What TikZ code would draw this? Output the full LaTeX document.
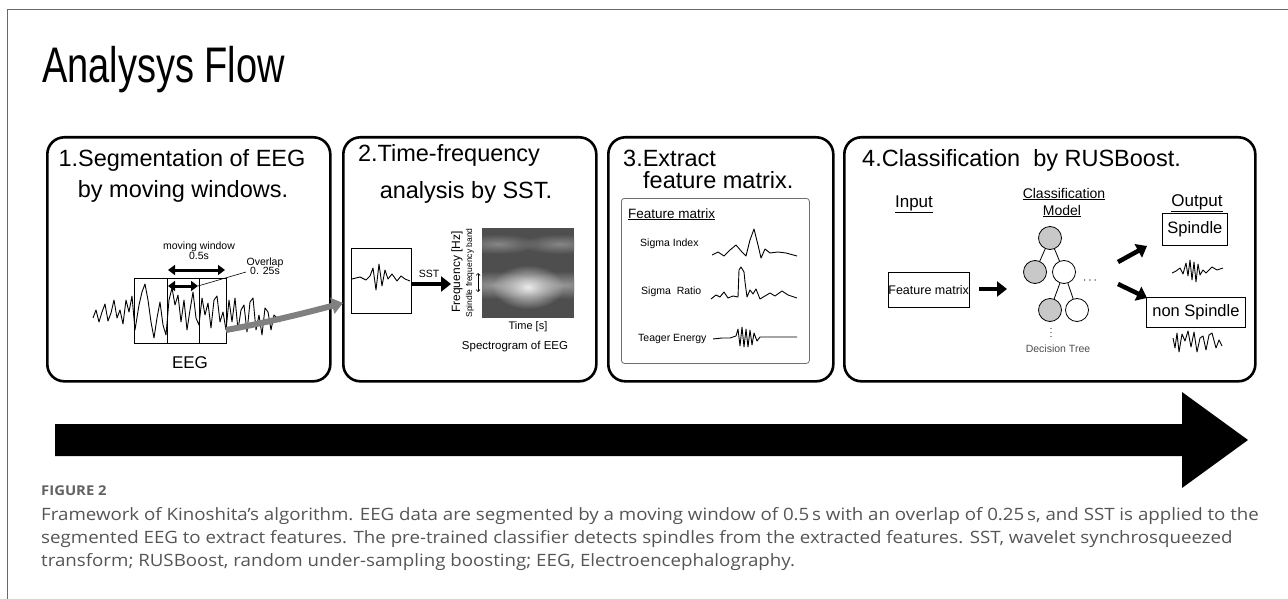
\documentclass[tikz,border=0pt]{standalone}
\usepackage{fontspec}
\setmainfont{Liberation Sans}
\newfontfamily\titlefont[FakeStretch=0.76]{Liberation Sans}
\newfontfamily\capfont[FakeStretch=1.1]{Open Sans}
\usetikzlibrary{arrows.meta,calc,fadings}

\newcommand{\fsz}[1]{\fontsize{#1}{#1}\selectfont}

\definecolor{framegray}{RGB}{105,105,105}
\definecolor{capgray}{RGB}{85,85,85}
\definecolor{flowgray}{RGB}{128,128,128}
\definecolor{specbg}{RGB}{78,78,78}
\definecolor{bandhi}{RGB}{135,135,135}
\definecolor{bandc}{RGB}{150,150,150}
\definecolor{blobc}{RGB}{235,235,235}
\definecolor{nodegray}{RGB}{200,200,200}
\definecolor{boxgray}{RGB}{110,110,110}

\tikzfading[name=softspot, inner color=transparent!0, outer color=transparent!100]

\tikzset{
  panel/.style={draw, line width=2.6pt, rounded corners=17pt, inner sep=0,
    minimum height=244pt, anchor=north west},
  ptitle/.style={font=\fsz{23.5}, anchor=base, inner sep=0},
  lbl/.style={inner sep=0, anchor=base},
  wave/.style={line width=0.9pt, line join=round},
  thinbox/.style={draw, line width=0.8pt, inner sep=0},
  dblarrow/.style={line width=3pt,
    {Triangle[length=7pt,width=10pt]}-{Triangle[length=7pt,width=10pt]}},
  fatarrow/.style={line width=4.5pt, -{Triangle[length=10pt,width=15pt]}},
  treenode/.style={circle, draw, line width=0.8pt, minimum size=23pt, inner sep=0},
  caption/.style={anchor=base west, inner sep=0, font=\capfont\fsz{17}, text=capgray},
  glow/.style={fill=#1, path fading=softspot},
}

\begin{document}
\begin{tikzpicture}[x=1pt, y=-1pt]
\useasboundingbox (0,0) rectangle (1288,599);

% outer frame
\draw[framegray, line width=1pt] (7,599) -- (7,10) -- (1288,10);

% heading
\node[anchor=base west, inner sep=0, font=\titlefont\fsz{50}] (heading) at (42,83) {Analysys Flow};

% the four stages
\node[panel, minimum width=283pt] (p1) at (46,136) {};
\node[panel, minimum width=253pt] (p2) at (342,136) {};
\node[panel, minimum width=225pt] (p3) at (607,136) {};
\node[panel, minimum width=411pt] (p4) at (843,136) {};

\node[ptitle] (t1a) at (182,167) {1.Segmentation of EEG};
\node[ptitle] (t1b) at (183,197) {by moving windows.};
\node[ptitle] (t2a) at (449,161) {2.Time-frequency};
\node[ptitle] (t2b) at (466,198) {analysis by SST.};
\node[ptitle, anchor=base west] (t3a) at (623,167) {3.Extract};
\node[ptitle, anchor=base west] (t3b) at (643,189) {feature matrix.};
\node[ptitle, anchor=base west] (t4) at (862,167) {4.Classification\ \ by RUSBoost.};

% ---- stage 1: segmentation ----
\node[lbl, font=\fsz{10.5}] (mwtxt) at (199,249) {moving window};
\node[lbl, font=\fsz{10.5}] (mwval) at (199,259) {0.5s};
\node[lbl, font=\fsz{10.5}] (ovtxt) at (265,265) {Overlap};
\node[lbl, font=\fsz{10.5}] (ovval) at (265,274) {0. 25s};

\node[thinbox, minimum width=92pt, minimum height=65pt, anchor=north west] (win) at (134,278) {};
\draw[line width=0.8pt] ($(win.north west)+(33,0)$) -- ($(win.south west)+(33,0)$);
\draw[line width=0.8pt] ($(win.north west)+(65,0)$) -- ($(win.south west)+(65,0)$);

\draw[wave] plot coordinates {(93,318) (96,310) (99,322) (102,312) (105,304) (108,321) (111,313)
  (114,300) (117,318) (120,310) (123,324) (126,300) (129,312) (132,296) (135,330) (139,305)
  (142,292) (145,284) (148,300) (151,322) (154,338) (157,318) (160,302) (163,325) (166,335)
  (169,300) (172,288) (175,305) (178,295) (181,322) (184,300) (187,330) (190,310) (193,292)
  (196,318) (199,325) (202,298) (205,315) (208,303) (211,328) (214,300) (217,296) (220,322)
  (223,312) (226,330) (229,300) (232,322) (235,298) (238,330) (241,310) (244,305) (247,332)
  (250,302) (253,298) (256,330) (259,315) (262,335) (265,308) (268,312) (271,330) (274,315)
  (277,318) (280,322)};

\coordinate (mwL) at (168,270);
\coordinate (mwR) at (225,270);
\coordinate (ovL) at (168,286);
\coordinate (ovR) at (198,286);
\coordinate (ovlead) at (246,272);
\draw[dblarrow] (mwL) -- (mwR);
\draw[dblarrow] (ovL) -- (ovR);
\draw[line width=0.6pt] (ovR) -- (ovlead);

\node[lbl, font=\fsz{17}] (eeg) at (190,368) {EEG};

% flow into stage 2
\coordinate (flowA) at (226,330);
\coordinate (flowB) at (343,303);
\draw[flowgray, line width=6pt, -{Triangle[length=11pt,width=16pt]}]
  (flowA) .. controls (265,323) and (305,313) .. (flowB);

% ---- stage 2: time-frequency ----
\node[thinbox, minimum width=60pt, minimum height=65pt, anchor=north west] (seg) at (351,248) {};
\draw[wave] plot coordinates {(352,279) (360,277) (366,280) (370,276) (373,268) (376,290)
  (379,264) (382,286) (385,270) (388,279) (392,274) (397,281) (401,276) (405,279) (410,281)};

\node[lbl, font=\fsz{10.5}] (ssttxt) at (429,277) {SST};
\coordinate (sstend) at (451,284);
\draw[fatarrow, line width=4pt] (seg.east |- sstend) -- (sstend);

\node[fill=specbg, inner sep=0, minimum width=92pt, minimum height=90pt, anchor=north west] (spec) at (482,228) {};
\begin{scope}
  \clip (spec.north west) rectangle (spec.south east);
  \fill[glow=bandhi] (498,244) ellipse [x radius=40, y radius=10];
  \fill[glow=bandhi] (560,244) ellipse [x radius=40, y radius=10];
  \fill[glow=bandc] (494,285) ellipse [x radius=48, y radius=14];
  \fill[glow=bandc] (564,285) ellipse [x radius=48, y radius=14];
  \fill[glow=blobc] (528,287) ellipse [x radius=36, y radius=22];
\end{scope}

\node[lbl, anchor=center, rotate=90, font=\fsz{12}] (freq) at (457,272) {Frequency [Hz]};
\node[lbl, anchor=center, rotate=90, font=\fsz{8.5}] (band) at (470,273) {Spindle frequency band};
\coordinate (bandT) at (478,273);
\coordinate (bandB) at (478,292);
\draw[line width=0.7pt, {Straight Barb[length=2pt]}-{Straight Barb[length=2pt]}] (bandT) -- (bandB);

\node[lbl, font=\fsz{11}] (time) at (528,329) {Time [s]};
\node[lbl, font=\fsz{11.5}] (spectxt) at (515,349) {Spectrogram of EEG};

% ---- stage 3: features ----
\node[draw=boxgray, line width=0.8pt, rounded corners=3pt, minimum width=188pt, minimum height=165pt,
  anchor=north west, inner sep=0] (fm) at (621,198) {};
\node[lbl, anchor=base west, font=\fsz{13.5}] (fmtitle) at (628,218) {\underline{Feature matrix}};
\node[lbl, anchor=base west, font=\fsz{10.5}] (sidx) at (640,246) {Sigma Index};
\node[lbl, anchor=base west, font=\fsz{10.5}] (srat) at (641,294) {Sigma\ \ Ratio};
\node[lbl, anchor=base west, font=\fsz{10.5}] (teag) at (638,341) {Teager Energy};

\draw[wave] plot coordinates {(712,255) (718,252) (724,256) (730,250) (736,245) (742,252) (746,256)
  (750,240) (754,229) (758,245) (761,258) (765,249) (770,253) (778,252) (786,253) (797,256)};
\draw[wave] plot coordinates {(711,299) (716,295) (720,297) (724,292) (728,298) (733,296) (738,297)
  (739,270) (741,267) (744,272) (745,282) (747,297) (750,290) (753,294) (756,289) (760,299)
  (765,296) (770,293) (775,296) (782,291) (788,295) (797,298)};
\draw[wave] plot coordinates {(713,339) (722,338) (730,338) (736,336) (738,329) (740,346) (742,327)
  (744,347) (746,329) (748,347) (750,330) (752,345) (754,333) (757,341) (760,337) (797,337)};

% ---- stage 4: classification ----
\node[lbl, font=\fsz{17}] (inp) at (914,207) {\underline{Input}};
\node[lbl, font=\fsz{14}] (cls1) at (1064,198) {\underline{Classification}};
\node[lbl, font=\fsz{14}] (cls2) at (1062,215) {\underline{Model}};
\node[lbl, font=\fsz{17}] (outp) at (1197,206) {\underline{Output}};

\node[thinbox, minimum width=78pt, minimum height=35pt, font=\fsz{12.5}, anchor=north west] (fmbox) at (888,272) {Feature matrix};

\node[treenode, fill=nodegray] (n0) at (1050,238) {};
\node[treenode, fill=nodegray] (n1) at (1035,272) {};
\node[treenode, fill=white]    (n2) at (1064,272) {};
\node[treenode, fill=nodegray] (n3) at (1050,310) {};
\node[treenode, fill=white]    (n4) at (1077,310) {};
\draw[line width=0.8pt] (n0) -- (n1);
\draw[line width=0.8pt] (n0) -- (n2);
\draw[line width=0.8pt] (n2) -- (n3);
\draw[line width=0.8pt] (n2) -- (n4);
\node[inner sep=0, font=\fsz{13}] (hdots) at (1090,281) {$\cdots$};
\node[inner sep=0, font=\fsz{9}] (vdots) at (1051,330) {$\vdots$};
\node[lbl, font=\fsz{10.5}, text=black!70] (dtree) at (1058,352) {Decision Tree};

\coordinate (inArrowEnd) at (1007,289);
\path (fmbox.east |- inArrowEnd) ++(10,0) coordinate (inArrowStart);
\draw[fatarrow] (inArrowStart) -- (inArrowEnd);

\node[thinbox, minimum width=65pt, minimum height=32pt, font=\fsz{16.5}, anchor=north west] (spin) at (1162,213) {Spindle};
\node[thinbox, minimum width=99pt, minimum height=30pt, font=\fsz{16.5}, anchor=north west] (nspin) at (1146,297) {non Spindle};

\coordinate (upA) at (1118,262);
\coordinate (upB) at (1147,246);
\coordinate (dnA) at (1118,284);
\coordinate (dnB) at (1147,298);
\draw[fatarrow] (upA) -- (upB);
\draw[fatarrow] (dnA) -- (dnB);

\draw[wave] plot coordinates {(1172,273) (1176,271) (1180,268) (1183,274) (1186,263) (1188,276)
  (1190,260) (1192,280) (1194,262) (1196,282) (1198,264) (1200,275) (1203,270) (1206,273)
  (1212,267) (1217,270) (1223,268)};
\draw[wave] plot coordinates {(1173,338) (1175,348) (1177,333) (1179,352) (1182,334) (1185,341)
  (1188,331) (1191,347) (1194,332) (1197,352) (1200,338) (1203,336) (1206,350) (1209,335)
  (1212,333) (1216,348) (1219,340) (1222,346)};

% ---- time line ----
\coordinate (tl0) at (55,440);
\coordinate (tl1) at (1248,440);
\fill ($(tl0)+(0,-16)$) -- (1182,424) -- (1182,392) -- (tl1) -- (1182,488) -- (1182,456)
  -- ($(tl0)+(0,16)$) -- cycle;

% ---- caption ----
\node[caption, font=\capfont\bfseries\fsz{13.5}, text=black!62] (figno) at (41,495) {FIGURE 2};
\node[caption] (cap1) at (41,520) {Framework of Kinoshita’s algorithm. EEG data are segmented by a moving window of 0.5\,s with an overlap of 0.25\,s, and SST is applied to the};
\node[caption] (cap2) at (41,543) {segmented EEG to extract features. The pre-trained classifier detects spindles from the extracted features. SST, wavelet synchrosqueezed};
\node[caption] (cap3) at (41,566) {transform; RUSBoost, random under-sampling boosting; EEG, Electroencephalography.};
\end{tikzpicture}
\end{document}
